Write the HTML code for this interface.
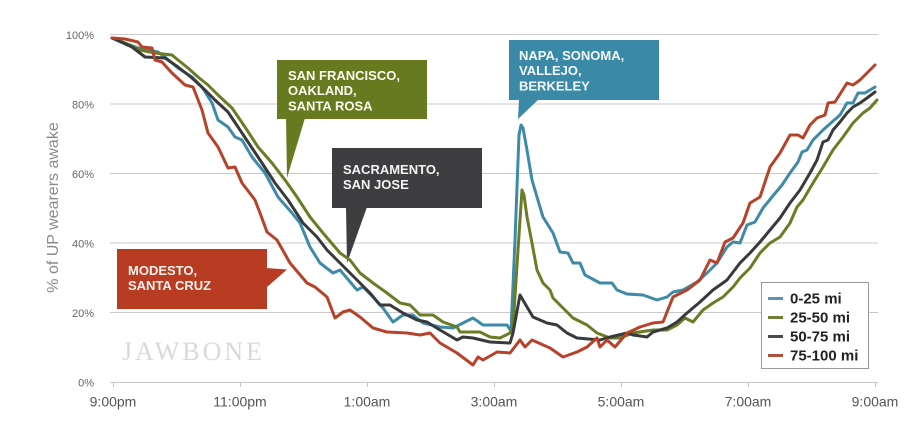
<!DOCTYPE html>
<html>
<head>
<meta charset="utf-8">
<style>
  html, body { margin: 0; padding: 0; background: #ffffff; }
  body { width: 912px; height: 424px; overflow: hidden; }
  svg { display: block; }
  text { font-family: "Liberation Sans", Arial, sans-serif; }
</style>
</head>
<body>
<svg width="912" height="424" viewBox="0 0 912 424" xmlns="http://www.w3.org/2000/svg">
  <rect x="0" y="0" width="912" height="424" fill="#ffffff"/>

  <!-- gridlines -->
  <g stroke="#c9c9c9" stroke-width="1">
    <line x1="110" y1="34.5" x2="878" y2="34.5"/>
    <line x1="110" y1="104" x2="878" y2="104"/>
    <line x1="110" y1="173.5" x2="878" y2="173.5"/>
    <line x1="110" y1="243" x2="878" y2="243"/>
    <line x1="110" y1="312.5" x2="878" y2="312.5"/>
    <line x1="110" y1="382.5" x2="878" y2="382.5"/>
  </g>
  <!-- x ticks -->
  <g stroke="#c4c4c4" stroke-width="1">
    <line x1="113.5" y1="382" x2="113.5" y2="387"/>
    <line x1="240.5" y1="382" x2="240.5" y2="387"/>
    <line x1="367.5" y1="382" x2="367.5" y2="387"/>
    <line x1="494.5" y1="382" x2="494.5" y2="387"/>
    <line x1="621.5" y1="382" x2="621.5" y2="387"/>
    <line x1="748.5" y1="382" x2="748.5" y2="387"/>
    <line x1="875.5" y1="382" x2="875.5" y2="387"/>
  </g>

  <!-- y tick labels -->
  <g font-size="11" fill="#666" text-anchor="end">
    <text x="94" y="39">100%</text>
    <text x="94" y="108.5">80%</text>
    <text x="94" y="178">60%</text>
    <text x="94" y="247.5">40%</text>
    <text x="94" y="317">20%</text>
    <text x="94" y="386.5">0%</text>
  </g>

  <!-- y axis title -->
  <text transform="translate(58,207.5) rotate(-90)" text-anchor="middle" font-size="16" fill="#8a8a8a">% of UP wearers awake</text>

  <!-- x labels -->
  <g font-size="14" fill="#555" text-anchor="middle">
    <text x="113" y="406.5">9:00pm</text>
    <text x="240" y="406.5">11:00pm</text>
    <text x="367" y="406.5">1:00am</text>
    <text x="494" y="406.5">3:00am</text>
    <text x="621" y="406.5">5:00am</text>
    <text x="748" y="406.5">7:00am</text>
    <text x="875" y="406.5">9:00am</text>
  </g>

  <!-- watermark -->
  <text x="122" y="360" style="font-family:'Liberation Serif', serif;" font-size="26" fill="#d9d9d9" textLength="140" lengthAdjust="spacing">JAWBONE</text>

  <!-- callouts -->
  <!-- SF -->
  <rect x="277" y="60" width="150" height="59" fill="#677a1f"/>
  <polygon points="286,118 305,118 287,178" fill="#677a1f"/>
  <g font-size="13" font-weight="bold" fill="#fbfbf0">
    <text x="288" y="80">SAN FRANCISCO,</text>
    <text x="288" y="95">OAKLAND,</text>
    <text x="288" y="110.5">SANTA ROSA</text>
  </g>
  <!-- Sacramento -->
  <rect x="332" y="148" width="150" height="60" fill="#3e3e40"/>
  <polygon points="346,207 367,207 347,263" fill="#3e3e40"/>
  <g font-size="13" font-weight="bold" fill="#f4f4f4">
    <text x="343" y="174">SACRAMENTO,</text>
    <text x="343" y="189">SAN JOSE</text>
  </g>
  <!-- Napa -->
  <rect x="509" y="40" width="150" height="60" fill="#3a89a6"/>
  <polygon points="519,99 539,99 518,119" fill="#3a89a6"/>
  <g font-size="13" font-weight="bold" fill="#f4f8fa">
    <text x="519" y="60">NAPA, SONOMA,</text>
    <text x="519" y="75">VALLEJO,</text>
    <text x="519" y="90.5">BERKELEY</text>
  </g>
  <!-- Modesto -->
  <rect x="117" y="249" width="150" height="60" fill="#b83c22"/>
  <polygon points="266,268 287,269.5 266,288" fill="#b83c22"/>
  <g font-size="13" font-weight="bold" fill="#fbf2ee">
    <text x="128" y="275">MODESTO,</text>
    <text x="128" y="290">SANTA CRUZ</text>
  </g>

  <!-- series -->
  <g fill="none" stroke-width="3" stroke-linejoin="round" stroke-linecap="round">
    <!-- 0-25 blue -->
    <polyline stroke="#3d8ba8" points="112,38 125,43 138,48 158,52 165,57 172,63 178,68 192,77 202,87 212,103 218,120 228,127 235,137 242,140 252,157 265,173 278,197 292,213 300,223 310,247 320,263 333,273 340,270 357,290 363,287 373,297 383,308 393,322 403,315 413,315 423,323 440,327 453,328 473,318 483,325 507,325 511,331 515,240 519,135 521,125 523,128 527,150 532,180 537,197 543,217 553,233 560,252 568,253 573,263 580,263 585,275 600,283 612,283 617,290 627,294 643,295 657,300 667,297 673,292 683,290 697,282 707,273 717,263 727,247 733,242 740,243 747,225 755,222 763,208 772,197 782,185 790,173 798,162 802,152 807,150 813,140 823,130 832,122 840,115 847,103 853,103 858,93 865,93 875,87"/>
    <!-- 25-50 olive -->
    <polyline stroke="#6a7c24" points="112,38 125,43 140,50 155,53 172,55 178,60 188,68 198,77 208,85 218,95 232,108 245,127 258,147 272,163 285,180 297,197 310,217 323,233 340,253 350,260 360,273 373,283 387,293 400,303 410,305 420,315 433,315 443,322 457,327 460,332 480,332 490,337 500,338 510,333 513,327 518,250 522,190 524,195 527,217 532,243 537,270 543,283 550,290 553,298 563,308 573,318 587,325 597,333 610,338 620,338 633,333 653,330 667,330 677,325 685,318 693,322 703,310 713,303 723,297 733,287 740,278 750,268 760,253 770,243 780,237 790,223 797,207 803,200 813,183 823,167 833,150 843,137 853,123 863,113 870,108 877,100"/>
    <!-- 50-75 dark -->
    <polyline stroke="#393a3c" points="112,38 132,47 145,57 165,58 178,67 192,78 205,90 215,100 228,112 238,127 248,142 262,163 275,183 288,200 303,223 317,237 327,250 337,260 347,270 360,283 370,293 380,305 390,305 403,313 417,320 427,322 440,330 457,340 463,337 473,338 490,342 510,343 513,333 520,295 527,307 533,317 547,323 557,325 567,333 577,338 600,340 610,337 627,333 633,335 647,337 653,332 667,328 677,322 687,313 700,302 713,290 727,280 740,263 750,253 760,242 770,230 780,218 790,203 800,190 810,173 817,160 823,142 828,140 833,130 840,122 847,113 853,107 860,103 867,98 875,92"/>
    <!-- 75-100 red -->
    <polyline stroke="#b6422a" points="112,38 125,39 138,42 142,47 152,48 155,60 162,62 172,73 185,85 193,87 202,110 208,133 218,147 228,168 235,167 242,183 255,200 260,213 267,232 277,240 290,263 307,283 315,287 327,297 335,318 343,312 350,310 360,317 373,328 387,332 407,333 420,335 430,333 440,343 457,353 473,365 478,357 483,360 497,352 510,353 520,340 525,347 532,340 550,348 563,357 577,352 587,347 597,338 600,347 607,340 615,347 627,333 640,327 653,323 663,322 673,297 687,290 700,280 710,260 717,263 725,242 733,238 743,223 750,203 760,197 770,167 780,153 790,135 798,135 803,138 810,125 817,118 825,115 828,103 835,102 847,83 853,85 860,80 867,73 875,65"/>
  </g>

  <!-- legend -->
  <rect x="761.5" y="282.5" width="107" height="86" fill="#ffffff" stroke="#9a9a9a" stroke-width="1"/>
  <g stroke-width="3">
    <line x1="768" y1="298.5" x2="783" y2="298.5" stroke="#5b95b0"/>
    <line x1="768" y1="317.5" x2="783" y2="317.5" stroke="#717f3c"/>
    <line x1="768" y1="336.5" x2="783" y2="336.5" stroke="#4a4a4a"/>
    <line x1="768" y1="355.5" x2="783" y2="355.5" stroke="#a8523a"/>
  </g>
  <g font-size="15" font-weight="bold" fill="#222">
    <text x="790" y="303.5">0-25 mi</text>
    <text x="790" y="322.5">25-50 mi</text>
    <text x="790" y="341.5">50-75 mi</text>
    <text x="790" y="360.5">75-100 mi</text>
  </g>
</svg>
</body>
</html>
